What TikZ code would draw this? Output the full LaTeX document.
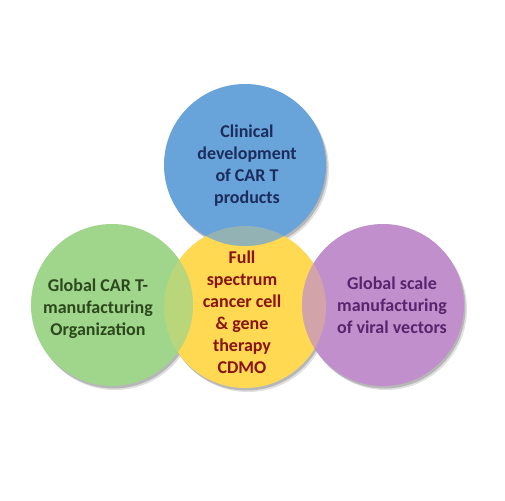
\documentclass[tikz,border=0pt]{standalone}
\usepackage{fontspec}
\setmainfont{Carlito}
\definecolor{cblue}{RGB}{104,163,218}
\definecolor{cgreen}{RGB}{160,213,140}
\definecolor{cyellow}{RGB}{255,217,82}
\definecolor{cpurple}{RGB}{193,144,204}
\definecolor{tblue}{RGB}{28,44,92}
\definecolor{tgreen}{RGB}{44,72,28}
\definecolor{tred}{RGB}{138,18,18}
\definecolor{tpurple}{RGB}{88,36,110}
\tikzset{
  bubble/.style={circle, minimum size=162pt, inner sep=0pt},
  shade1/.style={fill=black, fill opacity=0.18},
  shade2/.style={fill=black, fill opacity=0.12},
  lbl/.style={align=center, font=\fontsize{18}{22}\selectfont\bfseries}
}
\begin{document}
\begin{tikzpicture}[x=1pt,y=-1pt]
\useasboundingbox (0,0) rectangle (505,500);
\fill[white] (0,0) rectangle (505,500);
% shadows
\foreach \cx/\cy in {245/165,112/305,245/307,383/305}{
  \fill[shade2] (\cx+3,\cy+4) circle[radius=81pt];
  \fill[shade1] (\cx+1.5,\cy+2.5) circle[radius=81pt];
}
% circles
\node[bubble, fill=cyellow] (y) at (245,307) {};
\node[bubble, fill=cblue] (b) at (245,165) {};
\node[bubble, fill=cgreen] (g) at (112,305) {};
\node[bubble, fill=cpurple] (p) at (383,305) {};
% overlaps
\begin{scope}
  \clip (245,307) circle[radius=81pt];
  \fill[cyellow, fill opacity=0.28] (245,165) circle[radius=81pt];
  \fill[cyellow, fill opacity=0.28] (112,305) circle[radius=81pt];
  \fill[cyellow, fill opacity=0.28] (383,305) circle[radius=81pt];
\end{scope}
% labels
\node[lbl, text=tblue] (tb) at (247,166) {Clinical\\development\\of CAR T\\products};
\node[lbl, text=tgreen] (tg) at (98,309) {Global CAR T-\\manufacturing\\Organization};
\node[lbl, text=tred] (ty) at (242,312) {Full\\spectrum\\cancer cell\\\& gene\\therapy\\CDMO};
\node[lbl, text=tpurple] (tp) at (392,305) {Global scale\\manufacturing\\of viral vectors};
\end{tikzpicture}
\end{document}
